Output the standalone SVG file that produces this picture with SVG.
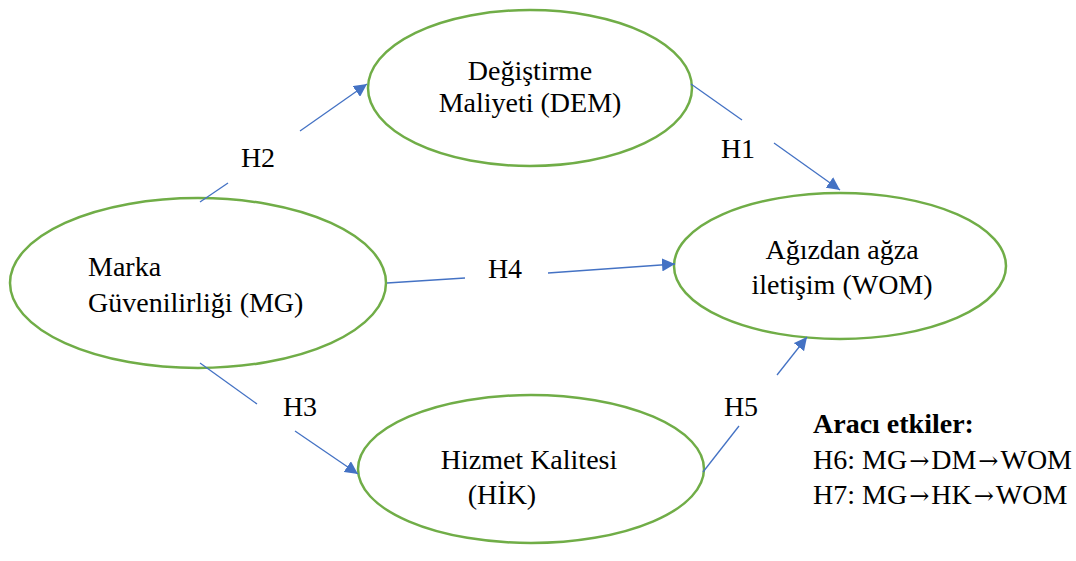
<svg xmlns="http://www.w3.org/2000/svg" width="1076" height="561" viewBox="0 0 1076 561">
<defs>
<style>
.node{fill:#fff;stroke:#70ad47;stroke-width:2.5}
.t{font-family:"Liberation Serif","Times New Roman",serif;font-size:28px;fill:#000}
.c{stroke:#4472c4;stroke-width:1.3;fill:none}
.b{font-weight:bold}
.ar{font-family:"DejaVu Serif",serif;font-size:24px}
</style>
<marker id="ah" viewBox="0 0 10 10" refX="10" refY="5" markerWidth="13" markerHeight="13" markerUnits="userSpaceOnUse" orient="auto">
<path d="M0,0 L10,5 L0,10 z" fill="#4472c4"/>
</marker>
</defs>
<rect width="1076" height="561" fill="#fff"/>
<g id="dem">
<ellipse class="node" cx="530" cy="88" rx="162" ry="78"/>
<text class="t" x="530" y="80" text-anchor="middle">Değiştirme</text>
<text class="t" x="530" y="112" text-anchor="middle">Maliyeti (DEM)</text>
</g>
<g id="mg">
<ellipse class="node" cx="198" cy="283" rx="188" ry="85"/>
<text class="t" x="88" y="276">Marka</text>
<text class="t" x="88" y="312">Güvenilirliği (MG)</text>
</g>
<g id="wom">
<ellipse class="node" cx="840" cy="266" rx="166" ry="73"/>
<text class="t" x="842" y="259" text-anchor="middle">Ağızdan ağza</text>
<text class="t" x="842" y="294" text-anchor="middle">iletişim (WOM)</text>
</g>
<g id="hik">
<ellipse class="node" cx="531" cy="469" rx="173" ry="74"/>
<text class="t" x="529" y="469" text-anchor="middle">Hizmet Kalitesi</text>
<text class="t" x="502" y="504" text-anchor="middle">(HİK)</text>
</g>
<g id="connectors">
<line class="c" x1="200" y1="202" x2="228" y2="183"/>
<line class="c" x1="300" y1="131" x2="367" y2="84" marker-end="url(#ah)"/>
<line class="c" x1="691" y1="84" x2="742" y2="120"/>
<line class="c" x1="774" y1="143" x2="840" y2="190" marker-end="url(#ah)"/>
<line class="c" x1="387" y1="283" x2="465" y2="278"/>
<line class="c" x1="548" y1="273" x2="675" y2="264" marker-end="url(#ah)"/>
<line class="c" x1="200" y1="363" x2="257" y2="404"/>
<line class="c" x1="295" y1="431" x2="358" y2="474" marker-end="url(#ah)"/>
<line class="c" x1="703" y1="472" x2="739" y2="426"/>
<line class="c" x1="777" y1="375" x2="807" y2="337" marker-end="url(#ah)"/>
<text class="t" x="258" y="167" text-anchor="middle">H2</text>
<text class="t" x="738" y="158" text-anchor="middle">H1</text>
<text class="t" x="505" y="278" text-anchor="middle">H4</text>
<text class="t" x="300" y="416" text-anchor="middle">H3</text>
<text class="t" x="741" y="416" text-anchor="middle">H5</text>
</g>
<g id="legend">
<text class="t b" x="813" y="433">Aracı etkiler:</text>
<text class="t" x="813" y="469">H6: MG<tspan class="ar" dx="2">→</tspan><tspan dx="2">DM</tspan><tspan class="ar" dx="2">→</tspan><tspan dx="2">WOM</tspan></text>
<text class="t" x="813" y="504">H7: MG<tspan class="ar" dx="2">→</tspan><tspan dx="2">HK</tspan><tspan class="ar" dx="2">→</tspan><tspan dx="2">WOM</tspan></text>
</g>
</svg>
